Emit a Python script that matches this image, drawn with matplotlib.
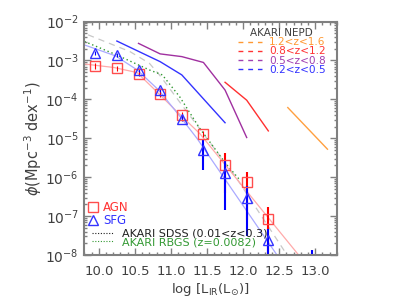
import numpy as np
import matplotlib
matplotlib.use('Agg')
import matplotlib.pyplot as plt
from matplotlib.lines import Line2D
from matplotlib.ticker import MultipleLocator, FormatStrFormatter, LogLocator

# ---------------- data ----------------
lum_bins = [9.95, 10.25, 10.55, 10.85, 11.15, 11.45, 11.75, 12.05, 12.35]

# AGN luminosity function + errors (dex)
agn_phi = [7.2e-4, 6.3e-4, 4.6e-4, 1.4e-4, 4.0e-5, 1.3e-5, 2.1e-6, 7.6e-7, 8.5e-8]
agn_err_lo = [0.08, 0.06, 0.07, 0.08, 0.07, 0.07, 0.74, 0.99, 1.5]
agn_err_hi = [0.08, 0.06, 0.07, 0.08, 0.07, 0.07, 0.29, 0.25, 0.30]

# SFG luminosity function + errors (dex)
sfg_lum = [9.95, 10.25, 10.55, 10.85, 11.15, 11.45, 11.75, 12.05, 12.35, 12.95]
sfg_phi = [1.6e-3, 1.35e-3, 5.7e-4, 1.75e-4, 3.2e-5, 5.1e-6, 1.3e-6, 3.0e-7, 2.5e-8, 5e-9]
sfg_err_lo = [0.05, 0.05, 0.05, 0.06, 0.06, 0.53, 0.96, 1.0, 1.5, 1.0]
sfg_err_hi = [0.05, 0.05, 0.05, 0.06, 0.06, 0.24, 0.29, 0.29, 0.28, 0.43]

# fitted curves (log phi)
agn_fit_x = [9.8, 10.21, 10.53, 10.83, 11.13, 11.40, 12.77]
agn_fit_y = [-3.09, -3.18, -3.31, -3.85, -4.40, -4.88, -8.0]
sfg_fit_x = [9.8, 10.23, 10.53, 10.83, 11.13, 11.36, 12.47]
sfg_fit_y = [-2.60, -2.88, -3.24, -3.76, -4.45, -5.0, -8.0]

# local LFs (log phi)
sdss_x = [9.85, 10.43, 10.70, 10.84, 11.90, 12.61]
sdss_y = [-2.34, -2.77, -3.07, -3.37, -6.0, -8.0]
rbgs_x = [9.8, 10.25, 10.71, 10.88, 11.12, 11.39, 11.76, 11.94]
rbgs_y = [-2.51, -2.86, -3.25, -3.37, -3.93, -4.72, -5.65, -6.04]

# AKARI NEPD redshift bins (log phi)
z1_x = [10.25, 10.85, 11.15, 11.75]
z1_y = [-2.50, -3.03, -3.37, -4.60]
z2_x = [10.55, 10.85, 11.15, 11.45, 11.75, 12.05]
z2_y = [-2.56, -2.83, -2.90, -3.05, -3.76, -4.98]
z3_x = [11.75, 12.05, 12.35]
z3_y = [-3.56, -4.02, -4.81]
z4_x = [12.62, 13.17]
z4_y = [-4.21, -5.28]

nepd_labels = ['1.2<z<1.6', '0.8<z<1.2', '0.5<z<0.8', '0.2<z<0.5']

# ---------------- plot ----------------
frame = '#808080'
txt = '#404040'

fig = plt.figure(figsize=(4.2, 3.0), dpi=100)
ax = fig.add_axes([0.201, 0.15, 0.601, 0.778])
ax.set_yscale('log')

def dex(v):
    return 10.0 ** np.array(v)

ax.plot(sdss_x, dex(sdss_y), color='#c8c8c8', lw=0.9, ls=(0, (5, 4)))
ax.plot(rbgs_x, dex(rbgs_y), color='#339933', lw=1.0, ls=(0, (1, 2)))
ax.plot(agn_fit_x, dex(agn_fit_y), color='#ffaaaa', lw=0.9)
ax.plot(sfg_fit_x, dex(sfg_fit_y), color='#aaaaff', lw=0.9)

ax.plot(z1_x, dex(z1_y), color='#3333ff', lw=1.0)
ax.plot(z2_x, dex(z2_y), color='#a030a0', lw=1.0)
ax.plot(z3_x, dex(z3_y), color='#ff3030', lw=1.0)
ax.plot(z4_x, dex(z4_y), color='#ffa040', lw=1.0)


def draw_errors(x, phi, lo, hi, color):
    x = np.array(x)
    phi = np.array(phi)
    lo = np.array(lo)
    hi = np.array(hi)
    big = (lo + hi) > 0.3
    for m, lw in ((~big, 0.8), (big, 1.5)):
        yerr = [phi[m] * (1 - 10 ** -lo[m]), phi[m] * (10 ** hi[m] - 1)]
        ax.errorbar(x[m], phi[m], yerr=yerr, fmt='none', ecolor=color, elinewidth=lw, capsize=0)


draw_errors(lum_bins, agn_phi, agn_err_lo, agn_err_hi, '#ff0000')
draw_errors(sfg_lum, sfg_phi, sfg_err_lo, sfg_err_hi, '#0000ff')
ax.plot(lum_bins, agn_phi, ls='none', marker='s', ms=7.5, mfc='none', mec='#ff4d4d', mew=1.0)
ax.plot(sfg_lum, sfg_phi, ls='none', marker='^', ms=7.5, mfc='none', mec='#3333ff', mew=1.0)

ax.set_xlim(9.8, 13.3)
ax.set_ylim(1e-8, 1e-2)
ax.xaxis.set_major_locator(MultipleLocator(0.5))
ax.xaxis.set_minor_locator(MultipleLocator(0.1))
ax.xaxis.set_major_formatter(FormatStrFormatter('%.1f'))
ax.yaxis.set_major_locator(LogLocator(base=10, numticks=10))
ax.yaxis.set_minor_locator(LogLocator(base=10, subs=np.arange(2, 10), numticks=20))
ax.tick_params(which='both', direction='in', top=True, right=True, color=frame,
               labelcolor=txt, width=1.0)
ax.tick_params(axis='x', labelsize=9.5, pad=7)
ax.tick_params(axis='y', labelsize=10, pad=4)
ax.tick_params(which='major', length=5)
ax.tick_params(which='minor', length=2.5)
for s in ax.spines.values():
    s.set_color(frame)
    s.set_linewidth(1.5)

ax.set_xlabel(r'log [L$_{\rm IR}$(L$_{\odot}$)]', fontsize=9.5, color=txt, labelpad=2)
ax.set_ylabel(r'$\phi$(Mpc$^{-3}$ dex$^{-1}$)', fontsize=10.5, color=txt, labelpad=1)

# legends
nepd_colors = ['#ff9933', '#ff3333', '#a040b0', '#3333ff']
h1 = [Line2D([], [], color=c, lw=1.0, ls=(0, (3.5, 3.5))) for c in nepd_colors]
leg1 = ax.legend(h1, nepd_labels, loc='upper left', bbox_to_anchor=(0.608, 0.972),
                 frameon=False, fontsize=7.6, labelcolor=nepd_colors, title='AKARI NEPD',
                 title_fontsize=7.5, labelspacing=-0.08, handlelength=2.3,
                 handletextpad=0.65, borderpad=0, borderaxespad=0)
leg1.get_title().set_color(txt)
ax.add_artist(leg1)

h2 = [Line2D([], [], ls='none', marker='s', ms=7, mfc='none', mec='#ff4d4d'),
      Line2D([], [], ls='none', marker='^', ms=7, mfc='none', mec='#3333ff')]
leg2 = ax.legend(h2, ['AGN', 'SFG'], loc='upper left', bbox_to_anchor=(0.017, 0.23),
                 frameon=False, fontsize=8.5, labelcolor=['#ff3333', '#3333ff'],
                 labelspacing=-0.05, handlelength=0.8, handletextpad=0.4,
                 borderpad=0, borderaxespad=0)
ax.add_artist(leg2)

h3 = [Line2D([], [], color='#202020', lw=0.8, ls=(0, (1, 1.5))),
      Line2D([], [], color='#339933', lw=0.8, ls=(0, (1, 1.5)))]
leg3 = ax.legend(h3, ['AKARI SDSS (0.01<z<0.3)', 'AKARI RBGS (z=0.0082)'], loc='upper left',
                 bbox_to_anchor=(0.03, 0.112), frameon=False, fontsize=8.0,
                 labelcolor=['#202020', '#339933'], labelspacing=-0.15, handlelength=2.0,
                 handletextpad=0.7, borderpad=0, borderaxespad=0)

fig.savefig('out.png', dpi=100)
